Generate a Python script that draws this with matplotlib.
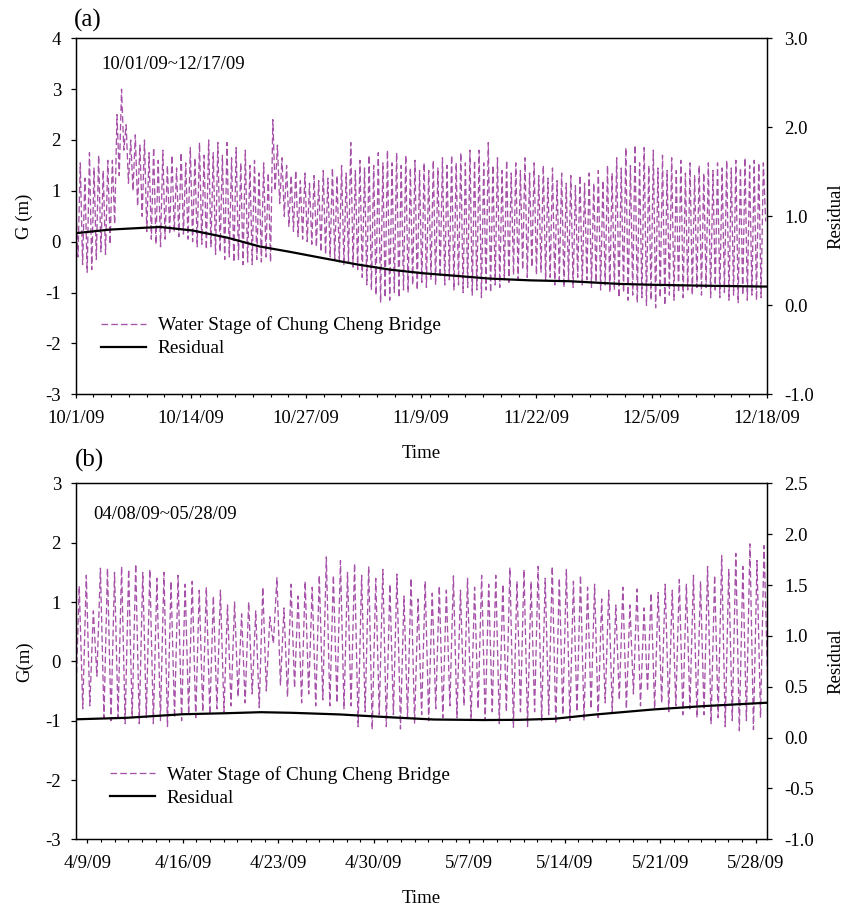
import datetime as dt
import numpy as np
import matplotlib
matplotlib.use("Agg")
import matplotlib.pyplot as plt
import matplotlib.dates as mdates
from matplotlib.ticker import FixedLocator, FormatStrFormatter, FuncFormatter

plt.rcParams["font.family"] = ["Liberation Serif", "DejaVu Serif"]
plt.rcParams["axes.unicode_minus"] = False
plt.rcParams["font.size"] = 13.5

TIDE = 12.42 / 24.0  # semi-diurnal tidal cycle in days

# --- (a) 10/01/09 ~ 12/17/09 : high / low water per tidal cycle (m)
oct_start = dt.datetime(2009, 10, 1)
oct_high = [
    0.75, 1.55, 1.25, 1.75, 1.45, 1.70, 1.40, 1.60, 1.60, 2.50,
    3.00, 2.30, 2.00, 2.10, 1.90, 2.00, 1.75, 1.85, 1.60, 1.80,
    1.50, 1.70, 1.45, 1.75, 1.55, 1.85, 1.65, 1.95, 1.70, 2.00,
    1.75, 1.95, 1.70, 1.95, 1.65, 1.85, 1.55, 1.80, 1.50, 1.60,
    1.35, 1.55, 1.35, 2.40, 1.90, 1.65, 1.50, 1.30, 1.40, 1.20,
    1.35, 1.15, 1.30, 1.20, 1.40, 1.25, 1.45, 1.30, 1.50, 1.35,
    1.95, 1.40, 1.60, 1.45, 1.70, 1.50, 1.75, 1.55, 1.80, 1.55,
    1.75, 1.50, 1.70, 1.45, 1.60, 1.40, 1.55, 1.40, 1.60, 1.45,
    1.65, 1.50, 1.70, 1.55, 1.75, 1.55, 1.80, 1.60, 1.80, 1.55,
    1.95, 1.50, 1.65, 1.40, 1.60, 1.35, 1.55, 1.40, 1.65, 1.35,
    1.55, 1.30, 1.50, 1.25, 1.45, 1.20, 1.35, 1.15, 1.30, 1.10,
    1.30, 1.15, 1.35, 1.15, 1.40, 1.20, 1.50, 1.35, 1.65, 1.45,
    1.85, 1.50, 1.90, 1.55, 1.85, 1.50, 1.80, 1.45, 1.70, 1.40,
    1.65, 1.40, 1.60, 1.35, 1.55, 1.30, 1.50, 1.35, 1.55, 1.40,
    1.55, 1.45, 1.60, 1.45, 1.60, 1.45, 1.65, 1.50, 1.60, 1.55, 1.55,
]
oct_low = [
    -0.30, -0.45, -0.60, -0.55, -0.35, -0.20, -0.25, -0.05, 0.35, 1.30,
    1.80, 1.15, 1.00, 0.70, 0.50, 0.20, 0.05, -0.05, -0.10, 0.05,
    0.15, 0.20, 0.10, 0.15, 0.05, 0.00, -0.10, -0.05, -0.15, -0.10,
    -0.25, -0.20, -0.35, -0.30, -0.40, -0.35, -0.45, -0.40, -0.45, -0.35,
    -0.40, -0.30, -0.40, 1.00, 0.75, 0.50, 0.30, 0.20, 0.10, 0.05,
    0.00, -0.05, -0.10, -0.20, -0.25, -0.30, -0.35, -0.40, -0.45, -0.40,
    -0.50, -0.55, -0.70, -0.85, -0.95, -1.05, -1.20, -1.10, -1.15, -1.00,
    -1.10, -0.95, -1.00, -0.85, -0.95, -0.80, -0.90, -0.75, -0.85, -0.70,
    -0.85, -0.75, -0.95, -0.85, -1.00, -0.90, -1.05, -0.95, -1.10, -0.95,
    -1.00, -0.85, -0.90, -0.75, -0.80, -0.65, -0.75, -0.55, -0.70, -0.50,
    -0.65, -0.60, -0.75, -0.70, -0.85, -0.75, -0.90, -0.75, -0.90, -0.70,
    -0.85, -0.75, -0.90, -0.80, -0.95, -0.85, -1.00, -0.95, -1.10, -1.00,
    -1.15, -1.05, -1.20, -1.10, -1.25, -1.15, -1.30, -1.10, -1.25, -1.05,
    -1.15, -1.00, -1.10, -0.95, -1.05, -0.90, -1.05, -0.90, -1.10, -0.95,
    -1.10, -1.00, -1.15, -1.05, -1.20, -1.05, -1.15, -1.05, -1.15, -1.10, 0.40,
]
oct_res_day = [0, 3.8, 7.6, 9.5, 13.2, 17.1, 20.8, 24.2, 27.9, 31.7, 35.5,
               39.2, 43.0, 46.7, 51.3, 55.8, 61.4, 65.2, 70.8, 78.0]
oct_res = [0.81, 0.85, 0.87, 0.88, 0.84, 0.76, 0.66, 0.60, 0.53, 0.46, 0.40,
           0.36, 0.33, 0.30, 0.28, 0.27, 0.24, 0.23, 0.22, 0.21]
oct_ticks = ["10/1/09", "10/14/09", "10/27/09", "11/9/09", "11/22/09", "12/5/09", "12/18/09"]

# --- (b) 04/08/09 ~ 05/28/09
apr_start = dt.datetime(2009, 4, 8)
apr_low = [
    -0.70, -0.80, -0.75, -0.25, -0.95, -1.00, -0.95, -1.05, -0.95, -1.05,
    -0.95, -1.05, -1.00, -1.10, -0.95, -1.00, -0.90, -0.95, -0.85, -0.90,
    -0.80, -0.85, -0.75, -0.60, -0.70, -0.55, -0.78, -0.50, 0.30, -0.40,
    -0.60, -0.45, -0.70, -0.55, -0.75, -0.65, -0.75, -0.70, -0.80, -0.75,
    -1.10, -0.85, -1.15, -0.90, -1.10, -0.90, -1.14, -0.95, -1.05, -0.90,
    -1.00, -0.80, -0.95, -0.75, -0.95, -0.75, -1.00, -0.80, -1.00, -0.85,
    -1.05, -0.85, -1.11, -0.85, -1.10, -0.85, -1.00, -0.90, -1.05, -0.90,
    -1.00, -0.85, -1.00, -0.80, -0.95, -0.70, -0.85, -0.65, -0.80, -0.55,
    -0.75, -0.50, -0.80, -0.70, -0.85, -0.75, -0.90, -0.80, -0.95, -0.90,
    -1.05, -0.95, -1.10, -1.00, -1.17, -1.00, -1.15, -0.95, -0.25,
]
apr_high = [
    1.27, 1.45, 0.85, 1.57, 1.57, 1.50, 1.60, 1.55, 1.64, 1.50,
    1.55, 1.40, 1.50, 1.35, 1.45, 1.30, 1.35, 1.20, 1.25, 1.10,
    1.20, 0.95, 1.00, 0.80, 1.00, 0.85, 1.25, 0.75, 1.41, 0.90,
    1.30, 1.10, 1.35, 1.25, 1.45, 1.76, 1.45, 1.70, 1.50, 1.65,
    1.45, 1.60, 1.40, 1.55, 1.30, 1.47, 1.10, 1.40, 1.05, 1.35,
    1.15, 1.27, 1.20, 1.44, 1.20, 1.40, 1.25, 1.45, 1.30, 1.45,
    1.30, 1.58, 1.35, 1.55, 1.35, 1.60, 1.40, 1.60, 1.40, 1.55,
    1.35, 1.45, 1.25, 1.30, 1.05, 1.20, 0.95, 1.25, 0.95, 1.22,
    0.90, 1.15, 1.16, 1.30, 1.20, 1.38, 1.30, 1.45, 1.35, 1.60,
    1.45, 1.78, 1.55, 1.82, 1.60, 1.98, 1.70, 1.95,
]
apr_res_day = [0.15, 3.9, 8.0, 11.2, 13.7, 16.0, 19.5, 21.2, 23.2, 26.4,
               30.0, 32.7, 35.2, 38.3, 42.5, 46.2, 50.8]
apr_res = [0.18, 0.195, 0.23, 0.24, 0.25, 0.244, 0.228, 0.215, 0.20, 0.178,
           0.173, 0.175, 0.185, 0.228, 0.277, 0.31, 0.343]
apr_ticks = ["4/9/09", "4/16/09", "4/23/09", "4/30/09", "5/7/09", "5/14/09", "5/21/09", "5/28/09"]

STAGE_C = "#a652a8"


def stage_series(first, second, t0):
    """Alternate two lists of tidal extremes on a half-cycle time grid (days)."""
    days, vals = [], []
    for k in range(max(len(first), len(second))):
        if k < len(first):
            days.append(t0 + k * TIDE)
            vals.append(first[k])
        if k < len(second):
            days.append(t0 + k * TIDE + TIDE / 2)
            vals.append(second[k])
    return np.array(days), np.array(vals)


def panel(ax, start, stage_days, stage_vals, res_days, res_vals, xlim_days,
          major_step, minor_step, tick_labels, gylim, gticks, rylim, rticks,
          period_text, period_xy, gname, leg_xy):
    base = mdates.date2num(start)
    ax2 = ax.twinx()

    l1, = ax.plot(base + stage_days, stage_vals, color=STAGE_C, lw=0.95,
                  dashes=(5, 2.4), label="Water Stage of Chung Cheng Bridge")
    l2, = ax2.plot(base + np.asarray(res_days), res_vals, color="black", lw=1.6,
                   label="Residual")

    ax.set_xlim(base + xlim_days[0], base + xlim_days[1])
    first_major = np.ceil(xlim_days[0])
    majors = [base + first_major + major_step * i for i in range(len(tick_labels))]
    ax.xaxis.set_major_locator(FixedLocator(majors))
    ax.xaxis.set_major_formatter(FuncFormatter(
        lambda v, pos: tick_labels[pos] if pos is not None and pos < len(tick_labels) else ""))
    minors = np.arange(base + first_major, base + xlim_days[1] + 1e-6, minor_step)
    ax.xaxis.set_minor_locator(FixedLocator(minors))

    ax.set_ylim(*gylim)
    ax.yaxis.set_major_locator(FixedLocator(gticks))
    ax.yaxis.set_major_formatter(FormatStrFormatter("%d"))
    ax2.set_ylim(*rylim)
    ax2.yaxis.set_major_locator(FixedLocator(rticks))
    ax2.yaxis.set_major_formatter(FormatStrFormatter("%.1f"))

    ax.tick_params(axis="x", which="major", direction="out", length=3.2, width=0.9, pad=8)
    ax.tick_params(axis="x", which="minor", direction="out", length=2.0, width=0.8)
    ax.tick_params(axis="y", direction="out", length=3.6, width=0.9, pad=7)
    ax2.tick_params(axis="y", direction="out", length=3.6, width=0.9, pad=9)
    for a in (ax, ax2):
        for s in a.spines.values():
            s.set_linewidth(0.9)

    ax.set_xlabel("Time")
    ax.xaxis.set_label_coords(0.5, -0.167)
    ax.xaxis.label.set_verticalalignment("center")
    ax.set_ylabel(gname)
    ax.yaxis.set_label_coords(-0.074, 0.5)
    ax.yaxis.label.set_verticalalignment("center")
    ax2.set_ylabel("Residual")
    ax2.yaxis.set_label_coords(1.1, 0.5)
    ax2.yaxis.label.set_verticalalignment("center")

    ax.text(period_xy[0], period_xy[1], period_text, transform=ax.transAxes,
            ha="left", va="center")
    ax2.legend([l1, l2], [l1.get_label(), l2.get_label()], loc="center left",
               bbox_to_anchor=leg_xy, frameon=False, fontsize=13.9, handlelength=2.35,
               handletextpad=0.6, labelspacing=0.28, borderpad=0, borderaxespad=0)
    return ax2


fig = plt.figure(figsize=(8.44, 9.07), dpi=100)
ax_a = fig.add_axes([0.0897, 0.5653, 0.8187, 0.3925])
ax_b = fig.add_axes([0.0897, 0.0746, 0.8187, 0.3925])

d_a, v_a = stage_series(oct_high, oct_low, 0.0)
panel(ax_a, oct_start, d_a, v_a, oct_res_day, oct_res, (0.0, 78.0), 13, 2,
      oct_ticks, (-3, 4), range(-3, 5), (-1, 3), [-1.0, 0.0, 1.0, 2.0, 3.0],
      "10/01/09~12/17/09", (0.037, 0.925), "G (m)", (0.036, 0.161))

d_b, v_b = stage_series(apr_low, apr_high, 0.15)
panel(ax_b, apr_start, d_b, v_b, apr_res_day, apr_res, (0.15, 50.8), 7, 1,
      apr_ticks, (-3, 3), range(-3, 4), (-1, 2.5), np.arange(-1.0, 2.51, 0.5),
      "04/08/09~05/28/09", (0.0255, 0.913), "G(m)", (0.049, 0.149))

fig.text(74 / 844, 1 - 20 / 907, "(a)", fontsize=18, ha="left", va="center")
fig.text(75 / 844, 1 - 460 / 907, "(b)", fontsize=18, ha="left", va="center")

fig.savefig("out.png", dpi=100)
